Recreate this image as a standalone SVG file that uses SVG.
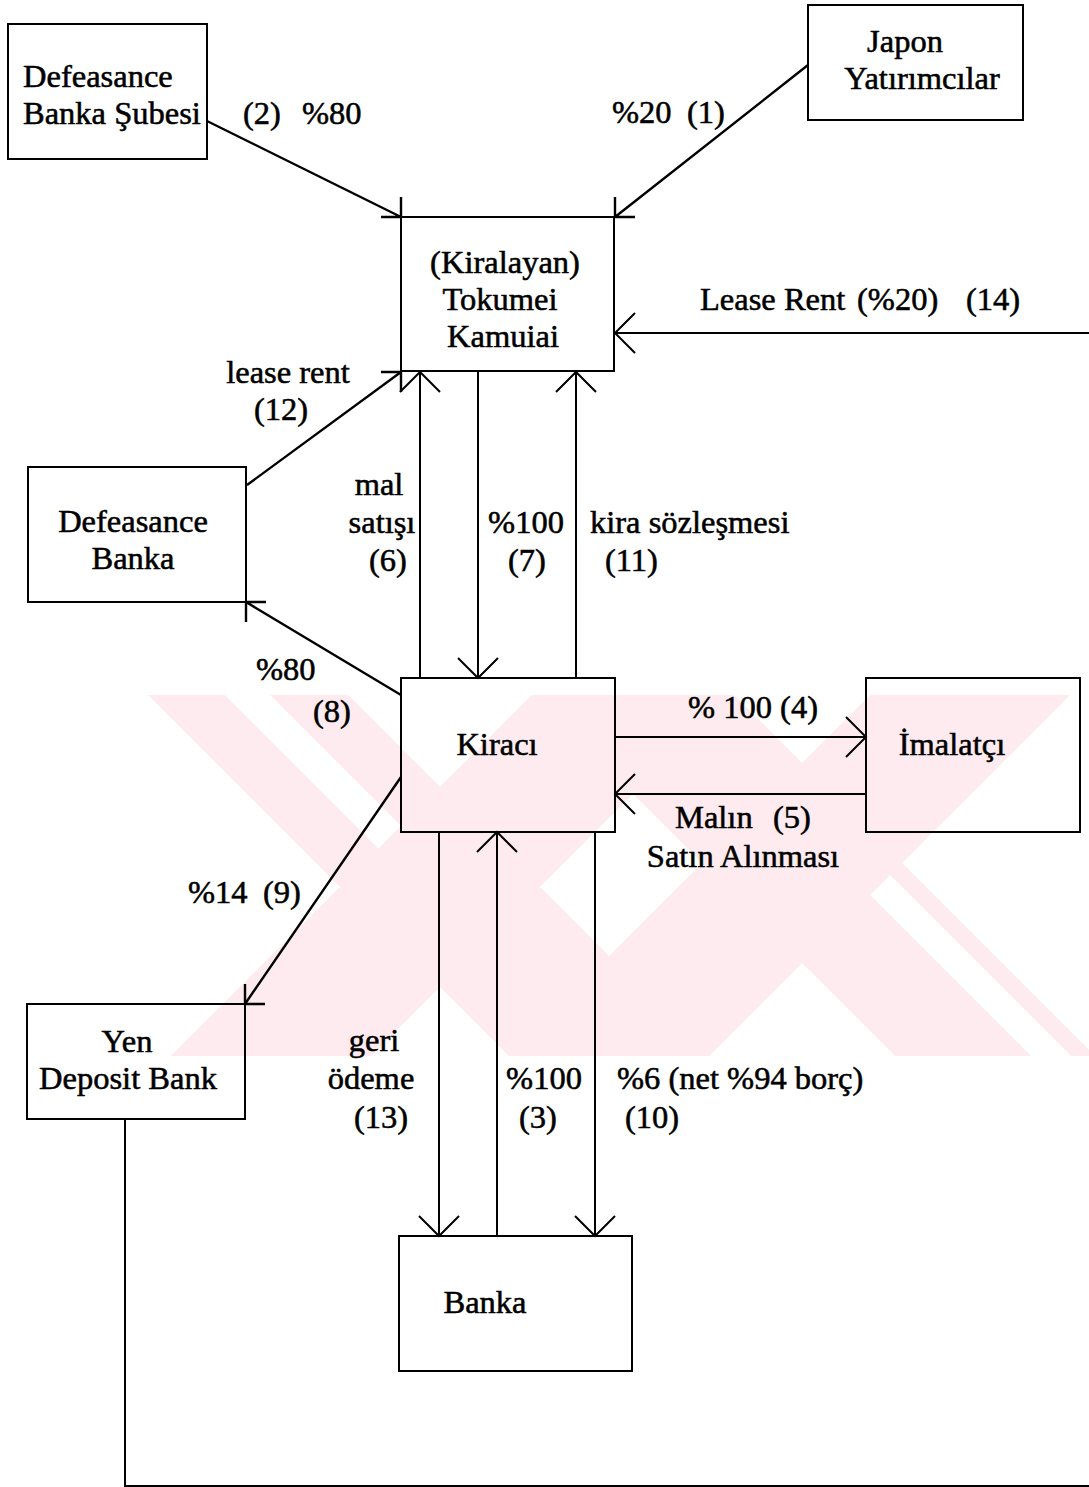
<svg xmlns="http://www.w3.org/2000/svg" width="1089" height="1487" viewBox="0 0 1089 1487">
<style>
.box{fill:none;stroke:#000;stroke-width:2}
.ln{fill:none;stroke:#000;stroke-width:2}
.dg{fill:none;stroke:#000;stroke-width:2.4}
.t{font-family:"Liberation Serif","Times New Roman",serif;font-size:32.5px;fill:#000;stroke:#000;stroke-width:0.55}
.c{text-anchor:middle}
.wm{fill:#fdebef}
.wg{fill:#fff}
</style>
<defs>
<marker id="open" markerUnits="userSpaceOnUse" markerWidth="50" markerHeight="50" viewBox="-25 -25 50 50" refX="0" refY="0" orient="auto">
<path d="M-20,-20 L0,0 L-20,20" fill="none" stroke="#000" stroke-width="2"/>
</marker>
<clipPath id="wmclip"><rect x="125" y="695" width="964" height="361"/></clipPath>
</defs>
<rect x="0" y="0" width="1089" height="1487" fill="#fff"/>
<g id="watermark" clip-path="url(#wmclip)">
<polygon class="wm" points="103,650 303,650 753,1100 553,1100"/>
<polygon class="wm" points="577,650 777,650 327,1100 127,1100"/>
<polygon class="wm" points="489,650 689,650 1139,1100 939,1100"/>
<polygon class="wm" points="915,650 1115,650 665,1100 465,1100"/>
<polygon class="wg" points="225,695 270,695 401,826 378.5,848.5"/>
<polygon class="wg" points="870,895 890,875 1073,1058 1033,1058"/>
</g>
<g id="connectors">
<path class="dg" d="M207,121 L401,217 M381,217 H401 V197"/>
<path class="dg" d="M808,65 L615,217 M635,217 H615 V197"/>
<path class="ln" d="M125,1119 V1486 H1100 V333 H615" marker-end="url(#open)"/>
<path class="dg" d="M247,485 L401,372 M381,372 H401 V392"/>
<path class="ln" d="M420,678 V372" marker-end="url(#open)"/>
<path class="ln" d="M478,371 V678" marker-end="url(#open)"/>
<path class="ln" d="M576,678 V372" marker-end="url(#open)"/>
<path class="dg" d="M401,695 L246,602 M266,602 H246 V622"/>
<path class="dg" d="M401,777 L245,1004 M265,1004 H245 V984"/>
<path class="ln" d="M615,737 H866" marker-end="url(#open)"/>
<path class="ln" d="M866,794 H615" marker-end="url(#open)"/>
<path class="ln" d="M439,832 V1236" marker-end="url(#open)"/>
<path class="ln" d="M497,1236 V832" marker-end="url(#open)"/>
<path class="ln" d="M595,832 V1236" marker-end="url(#open)"/>
</g>
<g id="labels">
<text class="t" x="243" y="124">(2)</text>
<text class="t" x="302" y="124">%80</text>
<text class="t" x="612" y="123">%20</text>
<text class="t" x="687" y="123">(1)</text>
<text class="t" x="700" y="310">Lease Rent</text>
<text class="t" x="857" y="310">(%20)</text>
<text class="t" x="966" y="310">(14)</text>
<text class="t c" x="288" y="383">lease rent</text>
<text class="t c" x="281" y="420">(12)</text>
<text class="t c" x="379" y="495">mal</text>
<text class="t c" x="382" y="533">satışı</text>
<text class="t c" x="388" y="571">(6)</text>
<text class="t c" x="526" y="533">%100</text>
<text class="t c" x="527" y="571">(7)</text>
<text class="t" x="590" y="533">kira sözleşmesi</text>
<text class="t" x="605" y="571">(11)</text>
<text class="t" x="256" y="680">%80</text>
<text class="t" x="313" y="722">(8)</text>
<text class="t" x="688" y="718">% 100 (4)</text>
<text class="t" x="675" y="828">Malın</text>
<text class="t" x="773" y="828">(5)</text>
<text class="t c" x="743" y="867">Satın Alınması</text>
<text class="t" x="188" y="903">%14</text>
<text class="t" x="263" y="903">(9)</text>
<text class="t c" x="374" y="1051">geri</text>
<text class="t c" x="371" y="1089">ödeme</text>
<text class="t c" x="381" y="1128">(13)</text>
<text class="t c" x="544" y="1089">%100</text>
<text class="t c" x="538" y="1128">(3)</text>
<text class="t" x="617" y="1089">%6 (net %94 borç)</text>
<text class="t c" x="652" y="1128">(10)</text>
</g>
<g id="n-defeasance-sube">
<rect class="box" x="8" y="24" width="199" height="135"/>
<text class="t" x="23" y="87">Defeasance</text>
<text class="t" x="23" y="124">Banka Şubesi</text>
</g>
<g id="n-japon">
<rect class="box" x="808" y="5" width="215" height="115"/>
<text class="t c" x="905" y="52">Japon</text>
<text class="t c" x="922" y="89">Yatırımcılar</text>
</g>
<g id="n-tokumei">
<rect class="box" x="401" y="217" width="213" height="154"/>
<text class="t c" x="505" y="273">(Kiralayan)</text>
<text class="t c" x="500" y="310">Tokumei</text>
<text class="t c" x="503" y="347">Kamuiai</text>
</g>
<g id="n-defeasance-banka">
<rect class="box" x="28" y="467" width="218" height="135"/>
<text class="t c" x="133" y="532">Defeasance</text>
<text class="t c" x="133" y="569">Banka</text>
</g>
<g id="n-kiraci">
<rect class="box" x="401" y="678" width="214" height="154"/>
<text class="t c" x="497" y="755">Kiracı</text>
</g>
<g id="n-imalatci">
<rect class="box" x="866" y="678" width="214" height="154"/>
<text class="t c" x="952" y="755">İmalatçı</text>
</g>
<g id="n-yen">
<rect class="box" x="27" y="1004" width="218" height="115"/>
<text class="t c" x="127" y="1052">Yen</text>
<text class="t c" x="128" y="1089">Deposit Bank</text>
</g>
<g id="n-banka">
<rect class="box" x="399" y="1236" width="233" height="135"/>
<text class="t c" x="485" y="1313">Banka</text>
</g>
</svg>
